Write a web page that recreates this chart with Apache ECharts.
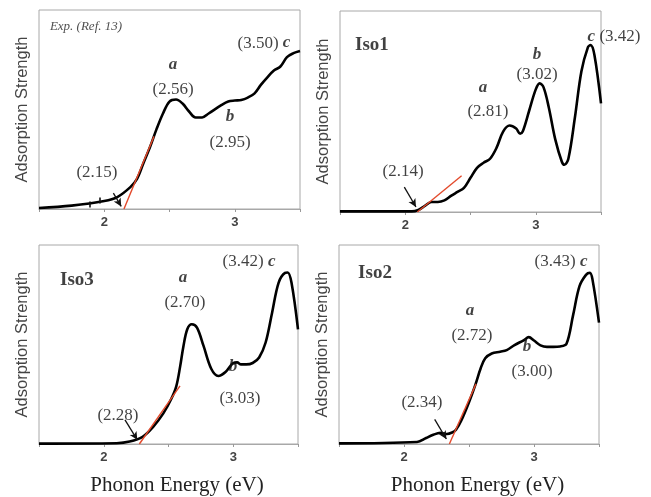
<!DOCTYPE html>
<html>
<head>
<meta charset="utf-8">
<script src="https://cdn.jsdelivr.net/npm/echarts@6/dist/echarts.min.js"></script>
<style>
  html, body { margin: 0; padding: 0; background: #fff; }
  #chart { width: 651px; height: 497px; }
</style>
</head>
<body>
<div id="chart"></div>
<script>
// x range and tick labels (eV)
var energyMin = 1.5, energyMax = 3.5;
var tickLabels = [2, 3];

// Exp. (Ref. 13)
var expEnergy = [1.5, 1.75, 2.0, 2.1, 2.2, 2.25, 2.3, 2.35, 2.4, 2.45, 2.5, 2.55, 2.6, 2.65, 2.7, 2.75, 2.8, 2.9, 2.95, 3.0, 3.05, 3.1, 3.15, 3.2, 3.25, 3.3, 3.35, 3.4, 3.45, 3.5];
var expStrength = [0.005, 0.017, 0.04, 0.06, 0.11, 0.15, 0.23, 0.31, 0.40, 0.48, 0.54, 0.55, 0.53, 0.49, 0.46, 0.46, 0.48, 0.523, 0.54, 0.545, 0.548, 0.56, 0.58, 0.624, 0.662, 0.696, 0.716, 0.763, 0.783, 0.794];

// Iso1
var iso1Energy = [1.5, 2.05, 2.1, 2.15, 2.2, 2.25, 2.3, 2.35, 2.4, 2.45, 2.5, 2.55, 2.6, 2.65, 2.7, 2.75, 2.8, 2.85, 2.88, 2.9, 2.95, 3.0, 3.03, 3.06, 3.1, 3.15, 3.2, 3.22, 3.25, 3.3, 3.35, 3.4, 3.42, 3.45, 3.5];
var iso1Strength = [0.003, 0.003, 0.01, 0.03, 0.05, 0.05, 0.058, 0.08, 0.10, 0.12, 0.17, 0.22, 0.245, 0.265, 0.32, 0.40, 0.43, 0.415, 0.39, 0.40, 0.505, 0.61, 0.64, 0.62, 0.52, 0.36, 0.25, 0.235, 0.265, 0.47, 0.70, 0.82, 0.83, 0.78, 0.54];

// Iso3
var iso3Energy = [1.5, 2.1, 2.2, 2.3, 2.38, 2.46, 2.52, 2.56, 2.59, 2.615, 2.645, 2.68, 2.72, 2.77, 2.83, 2.885, 2.94, 3.0, 3.03, 3.06, 3.1, 3.15, 3.2, 3.25, 3.3, 3.35, 3.4, 3.42, 3.45, 3.5];
var iso3Strength = [0.002, 0.004, 0.012, 0.036, 0.085, 0.154, 0.225, 0.29, 0.39, 0.49, 0.577, 0.602, 0.585, 0.494, 0.378, 0.342, 0.362, 0.407, 0.41, 0.40, 0.40, 0.407, 0.435, 0.51, 0.66, 0.81, 0.86, 0.862, 0.81, 0.576];

// Iso2
var iso2Energy = [1.5, 2.1, 2.17, 2.22, 2.28, 2.33, 2.37, 2.4, 2.44, 2.5, 2.55, 2.59, 2.625, 2.675, 2.74, 2.79, 2.85, 2.92, 2.96, 3.0, 3.05, 3.1, 3.15, 3.2, 3.25, 3.3, 3.35, 3.4, 3.43, 3.45, 3.5];
var iso2Strength = [0.003, 0.01, 0.03, 0.045, 0.056, 0.05, 0.058, 0.072, 0.117, 0.21, 0.30, 0.381, 0.431, 0.455, 0.464, 0.472, 0.497, 0.521, 0.537, 0.52, 0.496, 0.488, 0.488, 0.49, 0.504, 0.645, 0.793, 0.85, 0.86, 0.826, 0.61];

// onset tangents [x1, y1, x2, y2]
var expTangent = [2.151, 0, 2.381, 0.365];
var iso1Tangent = [2.093, 0, 2.432, 0.18];
var iso3Tangent = [2.275, 0, 2.589, 0.292];
var iso2Tangent = [2.349, 0, 2.554, 0.302];

// onset arrows [x1, y1, x2, y2]
var expArrow = [2.07, 0.08, 2.13, 0.013];
var iso1Arrow = [1.993, 0.124, 2.082, 0.025];
var iso3Arrow = [2.164, 0.121, 2.259, 0.021];
var iso2Arrow = [2.236, 0.124, 2.326, 0.025];

// small hand marks on the Exp. curve [x, y1, y2]
var expMarks = [[1.89, 0.008, 0.038], [1.965, 0.028, 0.058]];

// annotations [x, y, text, style]
var expNotes = [
  [1.86, 0.915, 'Exp. (Ref. 13)', 'ref'],
  [2.527, 0.724, 'a', 'peak'], [2.527, 0.598, '(2.56)', 'num'],
  [2.964, 0.462, 'b', 'peak'], [2.964, 0.332, '(2.95)', 'num'],
  [3.224, 0.834, '{n|(3.50)} {p|c}', 'rich'],
  [1.944, 0.181, '(2.15)', 'num']
];
var iso1Notes = [
  [1.745, 0.831, 'Iso1', 'name'],
  [2.596, 0.617, 'a', 'peak'], [2.634, 0.4975, '(2.81)', 'num'],
  [3.01, 0.781, 'b', 'peak'], [3.01, 0.682, '(3.02)', 'num'],
  [3.60, 0.871, '{p|c} {n|(3.42)}', 'rich'],
  [1.983, 0.199, '(2.14)', 'num']
];
var iso3Notes = [
  [1.793, 0.826, 'Iso3', 'name'],
  [2.612, 0.836, 'a', 'peak'], [2.627, 0.711, '(2.70)', 'num'],
  [2.998, 0.388, 'b', 'peak'], [3.052, 0.229, '(3.03)', 'num'],
  [3.122, 0.915, '{n|(3.42)} {p|c}', 'rich'],
  [2.11, 0.144, '(2.28)', 'num']
];
var iso2Notes = [
  [1.777, 0.861, 'Iso2', 'name'],
  [2.508, 0.668, 'a', 'peak'], [2.523, 0.545, '(2.72)', 'num'],
  [2.946, 0.49, 'b', 'peak'], [2.985, 0.366, '(3.00)', 'num'],
  [3.208, 0.916, '{n|(3.43)} {p|c}', 'rich'],
  [2.138, 0.208, '(2.34)', 'num']
];

var serif = '"Liberation Serif", "DejaVu Serif", serif';
var sans = '"Liberation Sans", Arial, sans-serif';

var textStyles = {
  ref: { fontFamily: serif, fontStyle: 'italic', fontSize: 13, color: '#222' },
  peak: { fontFamily: serif, fontStyle: 'italic', fontWeight: 'bold', fontSize: 17, color: '#111' },
  num: { fontFamily: serif, fontSize: 17, color: '#111' },
  name: { fontFamily: serif, fontWeight: 'bold', fontSize: 19, color: '#111' },
  rich: { fontFamily: serif, fontSize: 17, color: '#111' }
};
var richStyles = {
  n: { fontFamily: serif, fontSize: 17, color: '#111' },
  p: { fontFamily: serif, fontStyle: 'italic', fontWeight: 'bold', fontSize: 17, color: '#111' }
};

var panels = [
  { grid: { left: 39, top: 10, width: 261, height: 199 }, energy: expEnergy, strength: expStrength, tangent: expTangent, arrow: expArrow, notes: expNotes, marks: expMarks, bottom: false },
  { grid: { left: 340, top: 11, width: 261, height: 201 }, energy: iso1Energy, strength: iso1Strength, tangent: iso1Tangent, arrow: iso1Arrow, notes: iso1Notes, marks: [], bottom: false },
  { grid: { left: 39, top: 245, width: 259, height: 201 }, energy: iso3Energy, strength: iso3Strength, tangent: iso3Tangent, arrow: iso3Arrow, notes: iso3Notes, marks: [], bottom: true },
  { grid: { left: 339, top: 245, width: 260, height: 202 }, energy: iso2Energy, strength: iso2Strength, tangent: iso2Tangent, arrow: iso2Arrow, notes: iso2Notes, marks: [], bottom: true }
];

function zip(xs, ys) {
  return xs.map(function (x, i) { return [x, ys[i]]; });
}

var option = { animation: false, grid: [], xAxis: [], yAxis: [], series: [] };

panels.forEach(function (p, i) {
  option.grid.push(Object.assign({ show: true, borderColor: '#a8a8a8', borderWidth: 1 }, p.grid));
  option.xAxis.push({
    type: 'value', gridIndex: i, min: energyMin, max: energyMax, interval: 0.5,
    axisLine: { show: true, lineStyle: { color: '#a8a8a8' } },
    axisTick: { show: true, length: 3, lineStyle: { color: '#999' } },
    splitLine: { show: false },
    axisLabel: {
      margin: 7, fontFamily: sans, fontSize: 13, fontWeight: 'bold', color: '#444',
      formatter: function (v) { return tickLabels.indexOf(v) >= 0 ? String(v) : ''; }
    },
    name: p.bottom ? 'Phonon Energy (eV)' : '',
    nameLocation: 'middle', nameGap: 31,
    nameTextStyle: { fontFamily: serif, fontSize: 21, color: '#222', padding: [0, 0, 0, 17] }
  });
  option.yAxis.push({
    type: 'value', gridIndex: i, min: 0, max: 1,
    axisLine: { show: false }, axisTick: { show: false },
    axisLabel: { show: false }, splitLine: { show: false },
    name: 'Adsorption Strength', nameLocation: 'middle', nameGap: 8, nameRotate: 90,
    nameTextStyle: { fontFamily: sans, fontSize: 16.5, color: '#444' }
  });
  // curve, with the small hand marks on it
  option.series.push({
    type: 'line', xAxisIndex: i, yAxisIndex: i, data: zip(p.energy, p.strength),
    smooth: 0.35, showSymbol: false, lineStyle: { color: '#000', width: 2.6 }, z: 3,
    markLine: {
      silent: true, symbol: ['none', 'none'], label: { show: false },
      lineStyle: { color: '#111', width: 1.6, type: 'solid' },
      data: p.marks.map(function (m) { return [{ coord: [m[0], m[1]] }, { coord: [m[0], m[2]] }]; })
    }
  });
  // red tangent
  option.series.push({
    type: 'line', xAxisIndex: i, yAxisIndex: i,
    data: [[p.tangent[0], p.tangent[1]], [p.tangent[2], p.tangent[3]]],
    showSymbol: false, lineStyle: { color: '#e34a2c', width: 1.4 }, z: 4,
    markLine: {
      silent: true, symbol: ['none', 'arrow'], symbolSize: [6, 8],
      lineStyle: { color: '#111', width: 1.3, type: 'solid' }, label: { show: false },
      data: [[{ coord: [p.arrow[0], p.arrow[1]] }, { coord: [p.arrow[2], p.arrow[3]] }]]
    }
  });
  // annotations
  option.series.push({
    type: 'scatter', xAxisIndex: i, yAxisIndex: i, symbolSize: 0, clip: false, z: 5,
    data: p.notes.map(function (n) {
      return {
        value: [n[0], n[1]],
        label: Object.assign({ show: true, position: 'inside', formatter: n[2], rich: richStyles }, textStyles[n[3]])
      };
    })
  });
});

var chart = echarts.init(document.getElementById('chart'));
chart.setOption(option);
</script>
</body>
</html>
